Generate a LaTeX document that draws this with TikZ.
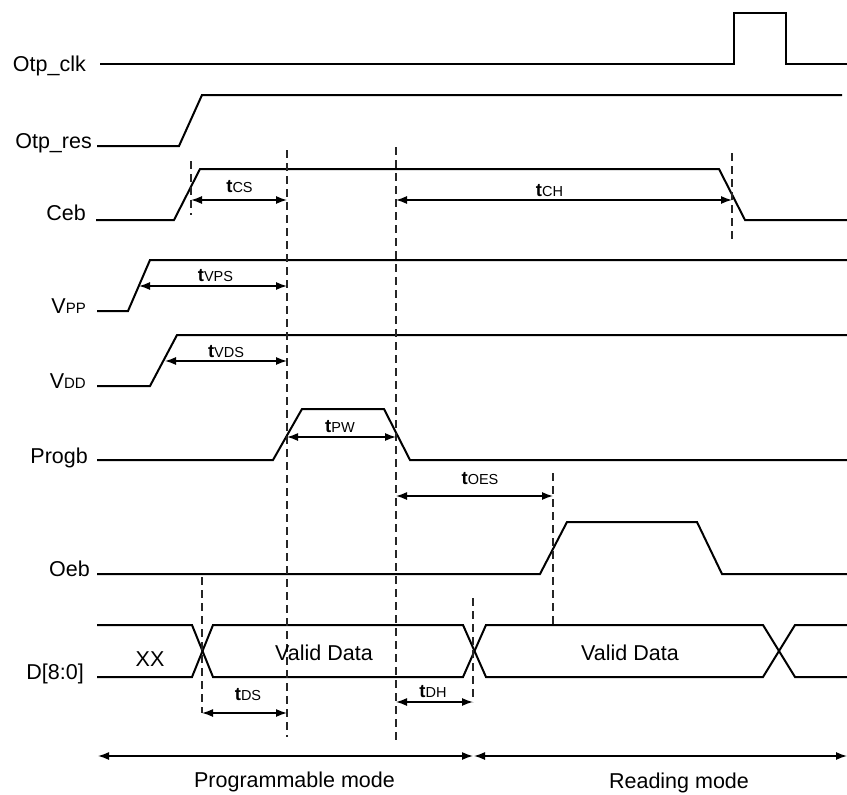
\documentclass[tikz,border=0pt]{standalone}
\usepackage{fontspec}
\setmainfont{Liberation Sans}
\usetikzlibrary{arrows.meta}
\newcommand{\bigf}{\fontsize{21.5}{24}\selectfont}
\newcommand{\subf}{\fontsize{15}{17}\selectfont}
\newcommand{\tlab}[1]{{\fontsize{18.5}{20}\selectfont\bfseries t}{\fontsize{14.5}{16}\selectfont #1}}
\begin{document}
\begin{tikzpicture}[x=1pt,y=-1pt,
  sig/.style={line width=2pt, line join=miter},
  dsh/.style={line width=1.4pt, dash pattern=on 8pt off 5pt, black!85},
  dim/.style={line width=1.4pt, {Latex[length=11pt,width=8pt]}-{Latex[length=11pt,width=8pt]}},
  sname/.style={anchor=base east, inner sep=0pt, font=\bigf},
  tl/.style={anchor=base, inner sep=0pt},
  txt/.style={anchor=base, inner sep=0pt, font=\bigf}]
\useasboundingbox (0,0) rectangle (847,795);

% signal names
\node[sname] (nclk) at (86,71) {Otp\_clk};
\node[sname] (nres) at (92,148) {Otp\_res};
\node[sname] (nceb) at (86,220) {Ceb};
\node[sname] (nvpp) at (86,313) {V{\subf PP}};
\node[sname] (nvdd) at (86,388) {V{\subf DD}};
\node[sname] (nprg) at (88,463) {Progb};
\node[sname] (noeb) at (90,576) {Oeb};
\node[sname] (nd) at (84,679) {D[8:0]};

% waveforms
\draw[sig] (100,64) -- (734,64) -- (734,13) -- (786,13) -- (786,64) -- (847,64);
\draw[sig] (97,146) -- (179,146) -- (202,95) -- (842,95);
\draw[sig] (96,220) -- (174,220) -- (200,169) -- (719,169) -- (745,220) -- (847,220);
\draw[sig] (97,311) -- (128,311) -- (150,260) -- (847,260);
\draw[sig] (97,386) -- (150,386) -- (177,335) -- (847,335);
\draw[sig] (97,460) -- (273,460) -- (302,409) -- (384,409) -- (410,460) -- (847,460);
\draw[sig] (97,574) -- (540,574) -- (567,522) -- (697,522) -- (722,574) -- (847,574);
\draw[sig] (97,625) -- (192,625) -- (213,677) -- (463,677) -- (486,625) -- (763,625) -- (795,677) -- (847,677);
\draw[sig] (97,677) -- (192,677) -- (213,625) -- (463,625) -- (486,677) -- (763,677) -- (795,625) -- (847,625);

% dashed reference lines
\draw[dsh] (191,161) -- (191,215);
\draw[dsh] (287,150) -- (287,737);
\draw[dsh] (396,147) -- (396,740);
\draw[dsh] (732,153) -- (732,240);
\draw[dsh] (553,473) -- (553,625);
\draw[dsh] (202,577) -- (202,713);
\draw[dsh] (473,598) -- (473,702);

% dimension arrows
\draw[dim] (191,200) -- (287,200);
\draw[dim] (396,200) -- (732,200);
\draw[dim] (139,286) -- (287,286);
\draw[dim] (165,361) -- (287,361);
\draw[dim] (287,437) -- (396,437);
\draw[dim] (396,496) -- (553,496);
\draw[dim] (202,713) -- (287,713);
\draw[dim] (396,702) -- (473,702);
\draw[dim] (98,756) -- (473,756);
\draw[dim] (474,756) -- (847,756);

% timing labels
\node[tl] (lcs) at (239.5,192.5) {\tlab{CS}};
\node[tl] (lch) at (549.5,196.5) {\tlab{CH}};
\node[tl] (lvps) at (215.5,281.5) {\tlab{VPS}};
\node[tl] (lvds) at (226,357) {\tlab{VDS}};
\node[tl] (lpw) at (340,432) {\tlab{PW}};
\node[tl] (loes) at (480,484) {\tlab{OES}};
\node[tl] (lds) at (248,700.5) {\tlab{DS}};
\node[tl] (ldh) at (433,697) {\tlab{DH}};

% data labels
\node[txt] (xx) at (150,666) {XX};
\node[txt] (vd1) at (324,660) {Valid Data};
\node[txt] (vd2) at (630,660) {Valid Data};
\node[txt] (pm) at (294.5,787) {Programmable mode};
\node[txt] (rm) at (679,788) {Reading mode};
\end{tikzpicture}
\end{document}
